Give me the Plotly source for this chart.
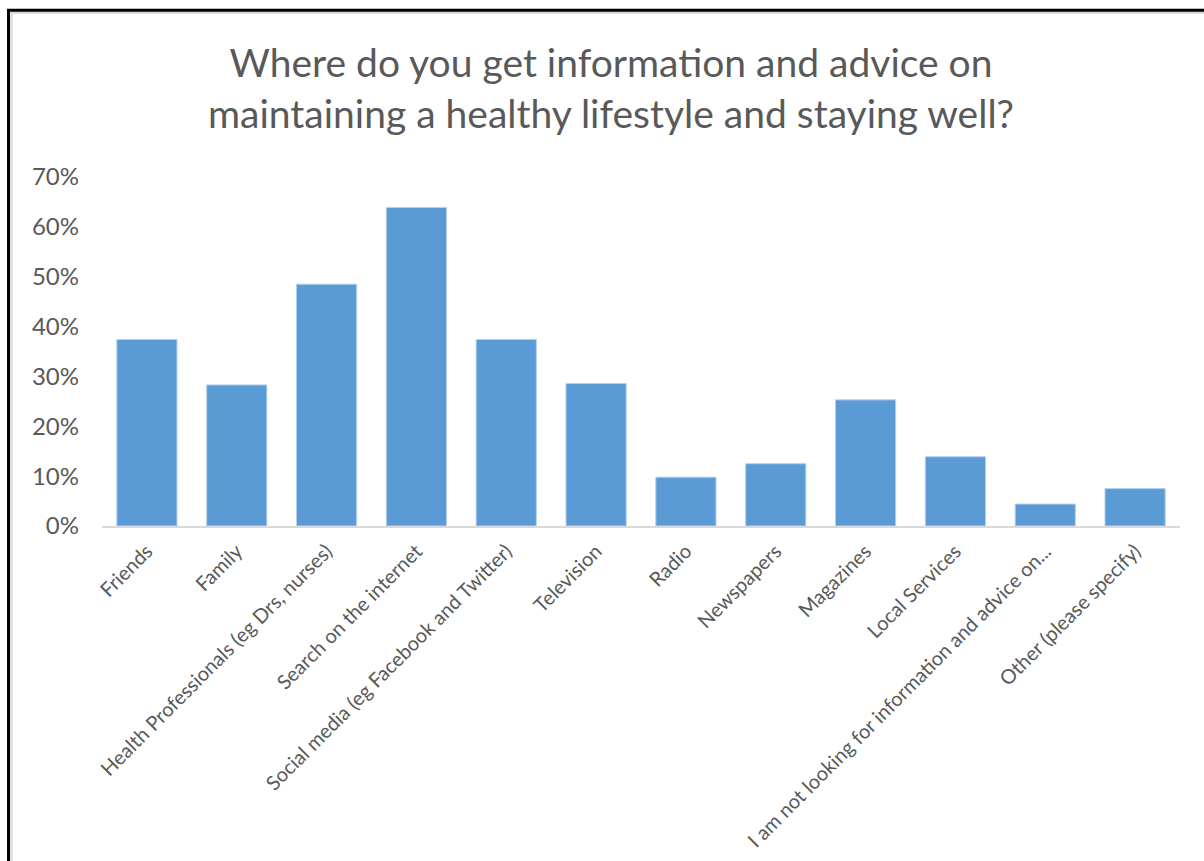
import plotly.graph_objects as go

# Survey responses: share of respondents using each source
categories = [
    "Friends",
    "Family",
    "Health Professionals (eg Drs, nurses)",
    "Search on the internet",
    "Social media (eg Facebook and Twitter)",
    "Television",
    "Radio",
    "Newspapers",
    "Magazines",
    "Local Services",
    "I am not looking for information and advice on...",
    "Other (please specify)",
]
shares = [0.374, 0.283, 0.485, 0.639, 0.374, 0.286, 0.098, 0.125, 0.253, 0.139, 0.044, 0.075]

title_lines = [
    "Where do you get information and advice on",
    "maintaining a healthy lifestyle and staying well?",
]

W, H = 1204, 861
ML, MR, MT, MB = 102, 24, 177, 334.5
PW, PH = W - ML - MR, H - MT - MB


def px_x(x):
    return (x - ML) / PW


def px_y(y):
    return (H - MB - y) / PH


FONT = "Lato, 'Open Sans', sans-serif"
GREY = "#595959"

fig = go.Figure(
    go.Bar(
        x=categories,
        y=shares,
        marker=dict(color="#5B9BD5", line=dict(color="#B4D0EE", width=1)),
        hoverinfo="x+y",
    )
)

fig.update_layout(
    width=W,
    height=H,
    margin=dict(l=ML, r=MR, t=MT, b=MB, autoexpand=False),
    paper_bgcolor="white",
    plot_bgcolor="white",
    bargap=0.33,
    showlegend=False,
    font=dict(family=FONT, color=GREY),
)

fig.update_xaxes(
    tickangle=-45,
    tickfont=dict(size=20, color=GREY, family=FONT),
    showline=True,
    linecolor="#D9D9D9",
    linewidth=1.5,
    showgrid=False,
    ticks="",
    ticklabelstandoff=4,
    fixedrange=True,
)
fig.update_yaxes(
    range=[0, 0.7],
    dtick=0.1,
    tickformat=".0%",
    tickfont=dict(size=24, color=GREY, family=FONT),
    showgrid=False,
    zeroline=False,
    showline=False,
    ticks="",
    ticklabelstandoff=22,
    fixedrange=True,
)

# Two-line chart title
fig.add_annotation(
    text="<br>".join(title_lines),
    xref="paper",
    yref="paper",
    x=px_x(611),
    y=px_y(87),
    xanchor="center",
    yanchor="middle",
    showarrow=False,
    font=dict(size=39, color=GREY, family=FONT),
)

# Chart frame: light inner shadow and heavy black border
fig.add_shape(
    type="rect",
    xref="paper",
    yref="paper",
    x0=px_x(11.5),
    x1=px_x(W + 20),
    y0=px_y(H + 20),
    y1=px_y(12.5),
    line=dict(color="#D4D4D4", width=2),
    fillcolor="rgba(0,0,0,0)",
    layer="below",
)
fig.add_shape(
    type="rect",
    xref="paper",
    yref="paper",
    x0=px_x(8.5),
    x1=px_x(W + 20),
    y0=px_y(H + 20),
    y1=px_y(10),
    line=dict(color="black", width=3),
    fillcolor="rgba(0,0,0,0)",
    layer="above",
)

fig.write_html("out.html", config={"displayModeBar": False})
